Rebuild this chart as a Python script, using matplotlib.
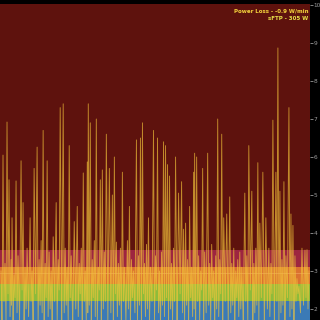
import matplotlib
matplotlib.use("Agg")
import matplotlib.pyplot as plt

# ---- data (W/kg trace) ----
spike_x = [1, 3, 5, 7, 9, 11, 12, 14, 16, 18, 21, 23, 25, 27, 30, 32, 34, 37, 39, 41,
           43, 45, 47, 49, 51, 53, 56, 58, 60, 63, 65, 67, 69, 71, 74, 77, 79, 81, 83, 85,
           87, 88, 90, 92, 94, 96, 98, 100, 102, 104, 106, 109, 112, 114, 116, 118, 120, 122, 124, 127,
           129, 131, 133, 136, 138, 140, 142, 144, 146, 148, 150, 153, 155, 157, 159, 161, 163, 165, 167, 169,
           171, 173, 175, 178, 181, 183, 185, 187, 189, 191, 193, 194, 196, 198, 200, 202, 204, 207, 209, 211,
           213, 215, 217, 219, 221, 223, 226, 229, 231, 233, 235, 237, 239, 241, 244, 246, 248, 251, 253, 255,
           257, 259, 262, 265, 268, 270, 272, 275, 277, 279, 281, 283, 285, 288, 290, 292, 294, 296, 298, 301,
           304, 306, 308]
spike_y = [3.0, 6.05, 3.2, 6.92, 5.4, 3.3, 4.4, 2.9, 5.37, 3.4, 5.9, 4.8, 3.1, 3.6, 4.4, 3.0, 5.7, 6.26, 3.3, 3.8,
           6.7, 3.2, 5.9, 3.5, 3.0, 3.9, 4.8, 3.3, 7.3, 7.4, 3.6, 3.1, 6.3, 3.4, 4.3, 4.7, 3.2, 3.6, 5.58, 3.0,
           5.87, 7.4, 6.9, 3.3, 3.8, 7.0, 3.1, 5.4, 5.66, 3.5, 6.6, 5.7, 5.0, 6.0, 3.76, 3.2, 3.6, 5.6, 3.1, 3.8,
           4.7, 3.3, 3.0, 6.45, 3.4, 6.5, 6.9, 3.2, 3.7, 4.4, 3.1, 6.7, 3.4, 6.5, 3.0, 3.5, 6.4, 6.3, 5.8, 5.5,
           3.2, 3.6, 6.0, 5.05, 5.35, 4.1, 4.26, 3.3, 4.7, 3.1, 5.6, 6.1, 6.0, 3.4, 3.0, 5.7, 3.5, 6.1, 3.2, 3.7,
           3.0, 3.4, 7.0, 3.3, 6.6, 4.4, 4.5, 4.95, 3.2, 3.6, 3.0, 3.3, 3.5, 3.1, 5.05, 3.4, 6.3, 5.1, 3.2, 3.6,
           5.85, 4.26, 5.6, 4.4, 3.6, 3.2, 6.97, 5.6, 8.87, 5.1, 3.3, 5.35, 3.4, 7.3, 4.5, 4.2, 3.4, 2.8, 2.6, 3.6,
           3.55, 3.56, 3.0]
trough_y = [1.6, 2.2, 1.7, 2.4, 1.8, 2.1, 1.6, 2.3, 1.9, 1.7, 2.5, 1.6, 2.0, 1.8, 2.2, 1.6, 2.4, 1.7, 2.1, 1.9,
            1.6, 2.3, 1.8, 2.0, 1.6, 2.2, 1.7, 2.5, 1.6, 1.9, 2.1, 1.7, 2.3, 1.6, 2.0, 1.8, 2.4, 1.6, 2.2, 1.7,
            1.9, 2.1, 1.6, 2.3, 1.8, 1.7, 2.5, 1.6, 2.0, 2.2, 1.7, 1.9, 1.6, 2.4, 1.8, 2.1, 1.6, 2.2, 1.7, 2.0,
            1.6, 2.3, 1.9, 1.7, 2.1, 1.6, 2.4, 1.8, 2.0, 1.6, 2.2, 1.7, 2.5, 1.9, 1.6, 2.1, 1.8, 2.3, 1.6, 2.0,
            1.7, 2.2, 1.6, 2.4, 1.9, 1.7, 2.1, 1.6, 2.3, 1.8, 2.0, 1.6, 2.2, 1.7, 2.5, 1.6, 1.9, 2.1, 1.7, 2.3,
            1.6, 2.0, 1.8, 2.4, 1.6, 2.2, 1.7, 1.9, 2.1, 1.6, 2.3, 1.8, 2.0, 1.6, 2.2, 1.7, 2.5, 1.6, 1.9, 2.1,
            1.7, 2.3, 1.6, 2.0, 1.8, 2.4, 1.6, 2.2, 1.7, 1.9, 2.1, 1.6, 2.3, 1.8, 2.0, 1.6, 2.2, 2.4, 1.9, 2.1,
            2.3, 2.0]

ftp_wkg = 2.96
zone_fracs = [0.75, 0.90, 1.05, 1.20]
zone_colors = ["#3b7ab6", "#8dbb3b", "#db7230", "#9d2540", "#5e120d"]
title_lines = ["Power Loss - -0.9 W/min", "sFTP - 305 W"]
yticks = [2, 3, 4, 5, 6, 7, 8, 9, 10]
ylim = (1.71, 10.04)
xlim = (0, 309)

# interleave spikes and troughs
xs, ys = [], []
for i, (sx, sy) in enumerate(zip(spike_x, spike_y)):
    xs.append(sx)
    ys.append(sy)
    if i < len(trough_y):
        xs.append((sx + spike_x[i + 1]) / 2)
        ys.append(trough_y[i])

fig = plt.figure(figsize=(3.2, 3.2), dpi=100, facecolor="black")
ax = fig.add_axes([0, 0, 310 / 320, 316.5 / 320])
ax.set_facecolor("black")

bounds = [ylim[0]] + [f * ftp_wkg for f in zone_fracs] + [ylim[1]]
for lo, hi, c in zip(bounds[:-1], bounds[1:], zone_colors):
    ax.axhspan(lo, hi, color=c, lw=0, zorder=0)

ax.axhline(ftp_wkg, color="#f5b070", lw=0.6, alpha=0.6, zorder=1)
ax.plot(xs, ys, color="#f3c53a", lw=0.65, alpha=0.68, zorder=2)

ax.set_xlim(*xlim)
ax.set_ylim(*ylim)
ax.set_xticks([])
ax.yaxis.tick_right()
ax.set_yticks(yticks)
ax.set_yticklabels([str(t) for t in yticks])
ax.tick_params(axis="y", colors="#9a9a9a", labelsize=4.2, length=2, width=0.6, pad=0.5)
for s in ax.spines.values():
    s.set_visible(False)

ax.text(0.995, 0.985, title_lines[0], transform=ax.transAxes, ha="right", va="top",
        color="#f4d23c", fontsize=4, fontweight="bold")
ax.text(0.995, 0.962, title_lines[1], transform=ax.transAxes, ha="right", va="top",
        color="#e8e04a", fontsize=4, fontweight="bold")

fig.savefig("out.png", dpi=100, facecolor="black")
